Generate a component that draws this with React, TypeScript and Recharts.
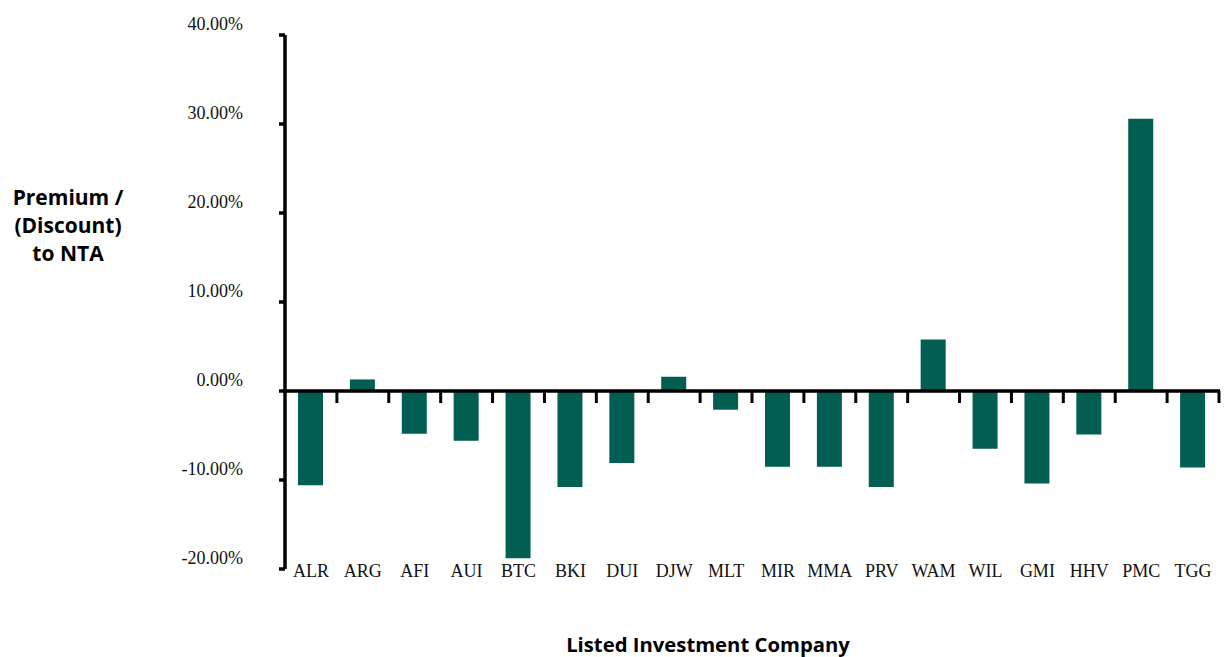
import React from 'react';
import { BarChart, Bar, XAxis, YAxis, ReferenceLine } from 'recharts';

// Listed investment companies and their premium / (discount) to NTA, in %
const companies = [
  'ALR', 'ARG', 'AFI', 'AUI', 'BTC', 'BKI', 'DUI', 'DJW', 'MLT',
  'MIR', 'MMA', 'PRV', 'WAM', 'WIL', 'GMI', 'HHV', 'PMC', 'TGG',
];
const premium = [
  -10.6, 1.3, -4.8, -5.6, -18.8, -10.8, -8.1, 1.6, -2.1,
  -8.5, -8.5, -10.8, 5.8, -6.5, -10.4, -4.9, 30.6, -8.6,
];
const yTicks = [-20, -10, 0, 10, 20, 30, 40];

const data = companies.map((name, i) => ({ name, value: premium[i] }));

const W = 1232;
const H = 657;
const BAR_COLOR = '#025e50';
const SERIF = "'Liberation Serif', 'Times New Roman', serif";
const SANS = "'Open Sans', 'Noto Sans', sans-serif";

const YTick = (props: any) => {
  const { x, y, payload } = props;
  return (
    <text
      x={x}
      y={y}
      dy={-11}
      textAnchor="end"
      dominantBaseline="central"
      fontFamily={SERIF}
      fontSize={18}
      fill="#111"
    >
      {`${Number(payload.value).toFixed(2)}%`}
    </text>
  );
};

const XTick = (props: any) => {
  const { x, y, payload } = props;
  return (
    <text x={x} y={y + 8} textAnchor="middle" fontFamily={SERIF} fontSize={18} fill="#111">
      {payload.value}
    </text>
  );
};

// zero line with little tick marks dropping down at each category boundary
const ZeroLine = (props: any) => {
  const { x1, y1, x2 } = props;
  const n = companies.length;
  const step = (x2 - x1) / n;
  const marks = [];
  for (let i = 1; i <= n; i++) {
    const x = x1 + step * i;
    marks.push(<line key={i} x1={x} y1={y1} x2={x} y2={y1 + 12} stroke="#000" strokeWidth={3} />);
  }
  return (
    <g>
      <line x1={x1} y1={y1} x2={x2 + 1} y2={y1} stroke="#000" strokeWidth={3.5} />
      {marks}
    </g>
  );
};

export default function App() {
  return (
    <div style={{ position: 'absolute', left: 0, top: 0, width: W, height: H, background: '#fff' }}>
      <BarChart
        width={W}
        height={H}
        data={data}
        margin={{ top: 35, right: 13, bottom: 87, left: 0 }}
        barCategoryGap={0}
      >
        <XAxis
          dataKey="name"
          axisLine={false}
          tickLine={false}
          tickSize={0}
          tickMargin={0}
          interval={0}
          tick={<XTick />}
          height={1}
        />
        <YAxis
          type="number"
          domain={[-20, 40]}
          ticks={yTicks}
          interval={0}
          width={285}
          tickSize={6}
          tickMargin={36}
          axisLine={{ stroke: '#000', strokeWidth: 3.5 }}
          tickLine={{ stroke: '#000', strokeWidth: 3.5 }}
          tick={<YTick />}
        />
        <Bar dataKey="value" fill={BAR_COLOR} barSize={25} isAnimationActive={false} />
        <ReferenceLine y={0} shape={<ZeroLine />} />
      </BarChart>
      <div
        style={{
          position: 'absolute',
          left: 0,
          top: 183,
          width: 136,
          textAlign: 'center',
          fontFamily: SANS,
          fontWeight: 700,
          fontSize: 21,
          lineHeight: '28px',
          color: '#000',
        }}
      >
        Premium /<br />
        (Discount)<br />
        to NTA
      </div>
      <div
        style={{
          position: 'absolute',
          left: 508,
          top: 630,
          width: 400,
          textAlign: 'center',
          fontFamily: SANS,
          fontWeight: 700,
          fontSize: 20.3,
          lineHeight: '28px',
          color: '#000',
        }}
      >
        Listed Investment Company
      </div>
    </div>
  );
}
